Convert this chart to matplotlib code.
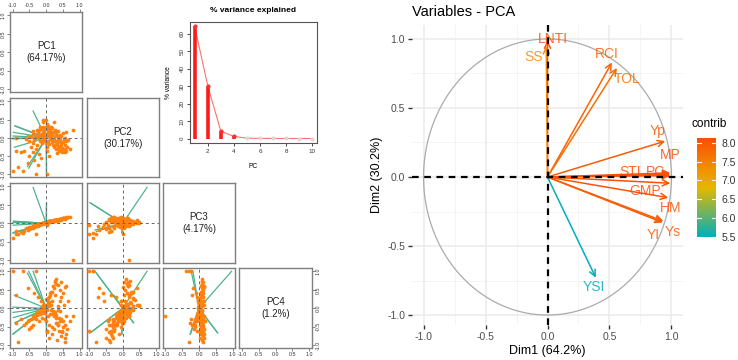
import numpy as np
import matplotlib
matplotlib.use("Agg")
import matplotlib.pyplot as plt
from matplotlib.colors import LinearSegmentedColormap

plt.rcParams['font.family'] = ['Liberation Sans', 'DejaVu Sans']

# ---------------- data ----------------
pc_names = ["PC1", "PC2", "PC3", "PC4"]
pc_pct = ["64.17%", "30.17%", "4.17%", "1.2%"]

pc1_scores = [-0.10, 0.00, 0.05, 0.10, 0.15, 0.20, 0.25, 0.30, -0.05, 0.02, -0.12, 0.08, -0.20, -0.02, 0.12, 0.18, -0.08, 0.05, 0.22, 0.35, 0.45, 0.55,
              0.25, 0.30, 0.35, 0.40, 0.45, 0.50, 0.55, 0.60, 0.38, 0.28, 0.48, 0.58, 0.62, 0.20, 0.42, 0.52, 0.32, 0.55,
              -0.15, -0.20, -0.25, -0.30, -0.35, -0.40, -0.45, -0.50, -0.55, -0.28, -0.38, -0.18, -0.60, -0.12,
              -0.30, -0.40, -0.50, -0.20, -0.35, -0.55, -0.25, -0.45, -0.15, -0.65,
              -1.00, -0.70, -0.30, 0.02, 0.80, -0.90, -0.85, -0.90, 0.60, -0.75,
              0.00, 0.05, -0.05, 0.10, 0.15, -0.10, 0.20, 0.25, -0.02, 0.08, 0.12, -0.15, 0.30, 0.35, 0.40, -0.22, 0.00, 0.18, 0.10, 0.22, 0.45, 0.50, -0.08, 0.03, 0.65,
              -0.25, -0.18, -0.10, -0.05, 0.00, 0.04, 0.08, 0.14, 0.18, 0.24, 0.28, 0.32, 0.38, 0.44, 0.50, -0.32, -0.12, 0.06, 0.16, 0.26, 0.36, 0.46, -0.40, -0.28, 0.02, 0.12, 0.34, 0.42, 0.56, 0.70]
pc2_scores = [0.30, 0.50, 0.25, 0.20, 0.30, 0.15, 0.22, 0.10, 0.15, 0.10, 0.05, 0.05, 0.20, 0.00, -0.02, 0.08, -0.05, -0.10, 0.42, 0.18, 0.05, 0.00,
              -0.10, -0.20, -0.05, -0.25, -0.15, -0.30, -0.20, -0.35, -0.35, -0.30, -0.40, -0.10, -0.25, -0.20, 0.02, -0.05, -0.42, -0.38,
              0.10, 0.00, 0.12, 0.05, -0.05, 0.10, 0.02, -0.08, 0.05, 0.22, 0.18, -0.10, -0.02, -0.15,
              -0.30, -0.40, -0.50, -0.45, -0.60, -0.70, -0.75, -0.25, -0.55, -0.35,
              -0.90, -0.90, -1.00, -1.00, 0.20, -0.35, -0.80, 0.00, 0.15, -0.40,
              0.05, 0.15, 0.22, 0.12, 0.02, 0.12, -0.05, 0.05, -0.08, -0.18, 0.28, 0.25, -0.12, -0.28, 0.08, 0.08, 0.30, -0.12, -0.50, -0.25, -0.20, 0.12, 0.48, -0.25, -0.05,
              0.18, 0.30, 0.42, 0.05, -0.15, 0.38, 0.22, 0.10, 0.26, -0.02, 0.12, -0.18, -0.10, -0.32, -0.12, 0.00, 0.02, 0.32, -0.06, 0.16, 0.06, -0.28, -0.15, -0.20, -0.35, 0.18, -0.22, -0.05, -0.30, -0.30]
pc3_scores = [0.00, 0.04, 0.03, 0.05, 0.07, 0.06, 0.09, 0.08, 0.02, 0.03, -0.01, 0.05, -0.03, 0.02, 0.05, 0.07, 0.01, 0.04, 0.08, 0.10, 0.12, 0.14,
              0.07, 0.09, 0.09, 0.11, 0.11, 0.13, 0.13, 0.15, 0.10, 0.08, 0.12, 0.15, 0.16, 0.07, 0.10, 0.14, 0.08, 0.12,
              -0.01, -0.03, -0.03, -0.06, -0.06, -0.08, -0.09, -0.11, -0.12, -0.04, -0.07, -0.02, -0.14, 0.00,
              -0.08, -0.12, -0.16, -0.05, -0.10, -0.18, -0.06, -0.13, -0.03, -0.22,
              -0.40, -0.25, -0.30, -0.05, -1.00, -0.20, -0.30, -0.28, 0.14, -0.24,
              0.03, 0.04, 0.01, 0.05, 0.06, 0.00, 0.07, 0.08, 0.02, 0.04, 0.06, -0.02, 0.09, 0.09, 0.11, -0.03, 0.03, 0.06, 0.04, 0.07, 0.12, 0.13, 0.01, 0.03, 0.16,
              -0.03, -0.01, 0.00, 0.02, 0.03, 0.04, 0.05, 0.06, 0.07, 0.08, 0.09, 0.10, 0.11, 0.12, 0.14, -0.05, 0.00, 0.04, 0.06, 0.08, 0.10, 0.12, -0.08, -0.04, 0.03, 0.05, 0.10, 0.11, 0.15, 0.18]
pc4_scores = [0.05, 0.10, 0.15, 0.30, 0.45, 0.60, 0.75, 0.80, 0.00, -0.05, -0.08, 0.05, -0.10, -0.12, -0.15, 0.20, -0.05, -0.20, 0.55, 0.62, 0.70, 0.58,
              -0.10, -0.25, -0.05, -0.35, -0.30, -0.50, -0.45, -0.70, -0.60, -0.40, -0.65, -0.20, -0.55, -0.15, -0.08, 0.10, -0.85, -0.90,
              -0.08, -0.12, -0.15, -0.18, -0.22, -0.25, -0.28, -0.32, -0.35, -0.10, -0.20, -0.15, -0.40, -0.25,
              -0.30, -0.45, -0.55, -0.35, 0.40, 0.55, 0.30, -0.50, 0.20, -0.45,
              1.00, 1.00, 1.00, -0.60, -0.20, 0.35, -0.90, -0.40, 0.60, -0.30,
              0.02, 0.08, -0.02, 0.12, -0.05, -0.04, -0.08, 0.35, -0.30, -0.45, 0.40, 0.00, -0.18, -0.45, 0.50, -0.12, 0.25, -0.70, -0.80, -0.55, 0.30, 0.40, 0.05, -0.60, 0.20,
              -0.15, -0.05, 0.10, -0.10, -0.35, 0.22, 0.18, 0.10, 0.45, -0.20, 0.65, -0.40, -0.25, -0.75, -0.35, -0.20, -0.12, 0.28, -0.50, 0.70, 0.05, -0.60, -0.25, -0.18, -0.65, 0.35, -0.45, 0.20, -0.80, -0.35]

variables = ["LNTI", "SS", "RCI", "TOL", "Yp", "MP", "STI", "PC", "GMP", "HM", "Ys", "YI", "YSI"]
# loadings used in the pairs plot
load_pc1 = [0.00, 0.01, -0.52, -0.56, -0.95, -0.99, -0.99, -0.99, -0.99, -0.98, -0.935, -0.93, -0.39]
load_pc2 = [-0.99, -0.95, -0.83, -0.79, -0.26, -0.03, -0.02, -0.01, 0.05, 0.15, 0.32, 0.33, 0.73]
load_pc3 = [0.56, 0.54, -0.18, -0.22, 0.05, -0.25, -0.27, -0.05, 0.02, 0.06, 0.04, 0.03, 0.97]
load_pc4 = [-0.67, -0.65, 1.00, 0.95, 0.35, -0.69, -0.70, 0.03, -0.11, -0.25, -0.39, -0.39, 1.00]

# scree
pcs = [1, 2, 3, 4, 5, 6, 7, 8, 9, 10]
var_explained = [64.17, 30.17, 4.17, 1.20, 0.15, 0.07, 0.03, 0.01, 0.00, 0.00]

# variables - PCA (Dim1, Dim2)
dim1 = [0.00, -0.01, 0.52, 0.56, 0.95, 0.99, 0.99, 0.99, 0.99, 0.975, 0.935, 0.93, 0.39]
dim2 = [0.99, 0.95, 0.83, 0.79, 0.26, 0.03, 0.02, 0.01, -0.045, -0.15, -0.32, -0.33, -0.73]
contrib = [8.05, 7.35, 7.85, 7.70, 7.95, 8.10, 8.10, 8.13, 8.10, 8.05, 7.95, 7.95, 5.49]
label_x = [0.045, -0.11, 0.48, 0.645, 0.89, 0.99, 0.67, 0.87, 0.79, 0.99, 1.01, 0.85, 0.37]
label_y = [1.00, 0.87, 0.89, 0.71, 0.33, 0.16, 0.035, 0.035, -0.10, -0.225, -0.40, -0.42, -0.80]

# ---------------- figure ----------------
W, H = 738, 360
fig = plt.figure(figsize=(W / 100, H / 100), dpi=100)


def box(x0, y0, x1, y1):
    return [x0 / W, 1 - y1 / H, (x1 - x0) / W, (y1 - y0) / H]


scores = [pc1_scores, pc2_scores, pc3_scores, pc4_scores]
loads = [load_pc1, load_pc2, load_pc3, load_pc4]
colx = [(10, 82.3), (86.7, 158.7), (162.7, 235.3), (239.3, 311.7)]
rowy = [(12.3, 92.3), (98.3, 177.3), (183.3, 263.3), (268.3, 348.3)]
ticks = [-1, -0.5, 0, 0.5, 1]
tlabels = ["-1.0", "-0.5", "0.0", "0.5", "1.0"]
green = "#4DB38E"
orange = "#FF8210"
border = "#7F7F7F"

for i in range(4):
    for j in range(i + 1):
        ax = fig.add_axes(box(colx[j][0], rowy[i][0], colx[j][1], rowy[i][1]))
        ax.set_xlim(-1.08, 1.08)
        ax.set_ylim(-1.08, 1.08)
        for s in ax.spines.values():
            s.set_color(border)
            s.set_linewidth(1.0)
        ax.set_xticks([])
        ax.set_yticks([])
        if i == j:
            ax.text(0, 0, f"{pc_names[i]}\n({pc_pct[i]})", ha="center", va="center",
                    fontsize=7, color="#222222", linespacing=1.25)
        else:
            for k in range(len(variables)):
                ax.plot([0, loads[j][k]], [0, loads[i][k]], color=green, lw=0.9, zorder=2)
            ax.plot(scores[j], scores[i], "o", color=orange, ms=2.7, mec="none", zorder=3)
            ax.axhline(0, color="#666666", lw=0.7, ls=(0, (3, 3)), zorder=4)
            ax.axvline(0, color="#666666", lw=0.7, ls=(0, (3, 3)), zorder=4)
        tick_kw = dict(labelsize=3.8, length=2, width=0.5, color="#555555", labelcolor="#333333", pad=1)
        if i == 0 and j == 0:
            ax.xaxis.tick_top()
            ax.set_xticks(ticks)
            ax.set_xticklabels(tlabels)
            ax.tick_params(axis="x", **tick_kw)
        if j == 0:
            ax.set_yticks(ticks)
            ax.set_yticklabels(tlabels, rotation=90, va="center")
            ax.tick_params(axis="y", **tick_kw)
        if i == 3:
            ax.set_xticks(ticks)
            ax.set_xticklabels(tlabels)
            ax.tick_params(axis="x", **tick_kw)
        if i == 3 and j == 3:
            ax.yaxis.tick_right()
            ax.set_yticks(ticks)
            ax.set_yticklabels(tlabels, rotation=90, va="center")
            ax.tick_params(axis="y", **tick_kw)

# scree plot
axs = fig.add_axes(box(190, 22, 317, 143))
axs.set_xlim(0.64, 10.36)
axs.set_ylim(-2.57, 66.74)
axs.plot(pcs, var_explained, color="#FF7070", lw=0.8, zorder=2)
axs.vlines(pcs[:4], 0, var_explained[:4], color="#FF1A1A", lw=2.6, zorder=3)
axs.plot(pcs[:4], var_explained[:4], "o", color="#FF3030", ms=3, mec="none", zorder=4)
axs.plot(pcs[4:], var_explained[4:], "o", color="#D9D9D9", ms=3, mec="none", zorder=4)
for s in axs.spines.values():
    s.set_color("#555555")
    s.set_linewidth(0.8)
axs.set_xticks([2, 4, 6, 8, 10])
axs.set_yticks([0, 10, 20, 30, 40, 50, 60])
axs.set_yticklabels(["0", "10", "20", "30", "40", "50", "60"], rotation=90, va="center")
axs.tick_params(labelsize=4.5, length=2, width=0.5, pad=2, labelcolor="#333333")
axs.set_title("% variance explained", fontsize=6, fontweight="bold", pad=7)
axs.set_xlabel("PC", fontsize=4.8, labelpad=7)
axs.set_ylabel("% variance", fontsize=4.8, labelpad=5)

# variables PCA
axv = fig.add_axes(box(412, 25, 683, 325))
axv.set_xlim(-1.093, 1.093)
axv.set_ylim(-1.072, 1.101)
for s in axv.spines.values():
    s.set_visible(False)
for v in [-0.75, -0.25, 0.25, 0.75]:
    axv.axvline(v, color="#F2F2F2", lw=0.6, zorder=0)
    axv.axhline(v, color="#F2F2F2", lw=0.6, zorder=0)
for v in ticks:
    axv.axvline(v, color="#EBEBEB", lw=1.1, zorder=0)
    axv.axhline(v, color="#EBEBEB", lw=1.1, zorder=0)
theta = np.linspace(0, 2 * np.pi, 400)
axv.plot(np.cos(theta), np.sin(theta), color="#ABABAB", lw=0.9, zorder=1)

cmap = LinearSegmentedColormap.from_list("fx", ["#00AFBB", "#E7B800", "#FC4E07"])
cmin, cmax = min(contrib), max(contrib)
norm = plt.Normalize(cmin, cmax)
for k, name in enumerate(variables):
    c = cmap(norm(contrib[k]))
    axv.annotate("", xy=(dim1[k], dim2[k]), xytext=(0, 0),
                 arrowprops=dict(arrowstyle="->,head_length=0.45,head_width=0.22", color=c, lw=1.1,
                                 shrinkA=0, shrinkB=0), zorder=3)
    axv.text(label_x[k], label_y[k], name, color=c, alpha=0.85, fontsize=10, ha="center", va="center", zorder=4)
axv.axhline(0, color="black", lw=1.6, ls=(0, (3, 2.5)), zorder=5)
axv.axvline(0, color="black", lw=1.6, ls=(0, (3, 2.5)), zorder=5)
axv.set_xticks(ticks)
axv.set_xticklabels(tlabels)
axv.set_yticks(ticks)
axv.set_yticklabels(tlabels)
axv.tick_params(labelsize=7.5, labelcolor="#4D4D4D", length=3, width=1.0, color="#333333", pad=2)
axv.set_xlabel("Dim1 (64.2%)", fontsize=9, labelpad=2)
axv.set_ylabel("Dim2 (30.2%)", fontsize=9, labelpad=3)
fig.text(411.7 / W, 1 - 11.7 / H, "Variables - PCA", fontsize=10.5, ha="left", va="center")

# colorbar legend
axc = fig.add_axes(box(697, 138, 716, 237))
grad = np.linspace(cmin, cmax, 256).reshape(-1, 1)
axc.imshow(grad, aspect="auto", cmap=cmap, norm=norm, origin="lower",
           extent=[0, 1, cmin, cmax])
axc.set_xlim(0, 1)
axc.set_ylim(cmin, cmax)
for s in axc.spines.values():
    s.set_visible(False)
axc.set_xticks([])
cb_ticks = [5.5, 6.0, 6.5, 7.0, 7.5, 8.0]
for t in cb_ticks:
    axc.plot([0, 0.2], [t, t], color="white", lw=0.8)
    axc.plot([0.8, 1], [t, t], color="white", lw=0.8)
axc.yaxis.tick_right()
axc.set_yticks(cb_ticks)
axc.set_yticklabels(["5.5", "6.0", "6.5", "7.0", "7.5", "8.0"])
axc.tick_params(axis="y", length=0, labelsize=7.5, labelcolor="#333333", pad=4)
fig.text(692 / W, 1 - 124 / H, "contrib", fontsize=8.5, ha="left", va="center")

fig.savefig("out.png", dpi=100)
